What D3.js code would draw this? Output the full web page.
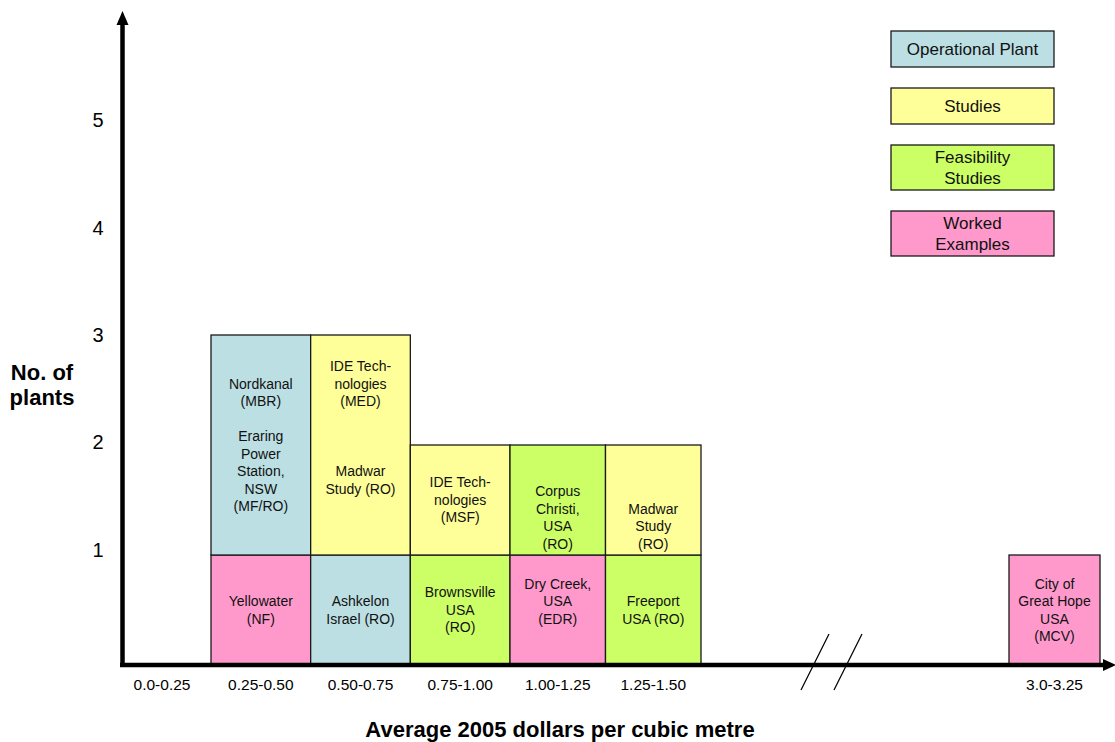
<!DOCTYPE html>
<html>
<head>
<meta charset="utf-8">
<script src="https://cdn.jsdelivr.net/npm/d3@7"></script>
<style>
  body { margin: 0; background: #fff; }
  svg { display: block; font-family: "Liberation Sans", Arial, sans-serif; }
</style>
</head>
<body>
<svg id="chart" width="1115" height="742"></svg>
<script>
// price bands (average 2005 $ per cubic metre)
var categories = ["0.0-0.25", "0.25-0.50", "0.50-0.75", "0.75-1.00", "1.00-1.25", "1.25-1.50", "3.0-3.25"];
var categoryLow = [0, 0.25, 0.5, 0.75, 1.0, 1.25, 3.0];

var types = ["Operational Plant", "Studies", "Feasibility Studies", "Worked Examples"];
var typeLines = [["Operational Plant"], ["Studies"], ["Feasibility", "Studies"], ["Worked", "Examples"]];
var typeColors = ["#bcdfe3", "#ffff99", "#ccff66", "#ff99cc"];

// one entry per box, stacked bottom-up inside each band
var boxCategory = ["0.25-0.50", "0.25-0.50", "0.50-0.75", "0.50-0.75", "0.75-1.00", "0.75-1.00",
                   "1.00-1.25", "1.00-1.25", "1.25-1.50", "1.25-1.50", "3.0-3.25"];
var boxType = ["Worked Examples", "Operational Plant", "Operational Plant", "Studies", "Feasibility Studies", "Studies",
               "Worked Examples", "Feasibility Studies", "Feasibility Studies", "Studies", "Worked Examples"];
var boxPlants = [1, 2, 1, 2, 1, 1, 1, 1, 1, 1, 1];
var boxLabel = [
  ["Yellowater", "(NF)"],
  ["Nordkanal", "(MBR)", "", "Eraring", "Power", "Station,", "NSW", "(MF/RO)"],
  ["Ashkelon", "Israel (RO)"],
  ["IDE Tech-", "nologies", "(MED)", "", "", "", "Madwar", "Study (RO)", "", ""],
  ["Brownsville", "USA", "(RO)"],
  ["IDE Tech-", "nologies", "(MSF)"],
  ["Dry Creek,", "USA", "(EDR)", ""],
  ["", "", "Corpus", "Christi,", "USA", "(RO)"],
  ["Freeport", "USA (RO)"],
  ["", "", "", "Madwar", "Study", "(RO)"],
  ["City of", "Great Hope", "USA", "(MCV)"]
];

var yTicks = [1, 2, 3, 4, 5];

var svg = d3.select("#chart");

// broken x axis: the gap between 1.50 and 3.0 is squeezed
var x = d3.scaleLinear()
  .domain([0, 0.25, 1.0, 1.5, 3.0, 3.25])
  .range([113, 211, 510, 701, 1009, 1100]);
var y = d3.scaleLinear().domain([0, 3]).range([665, 335]);
var bandWidth = 0.25;
var lineH = 17.5;

// stack boxes inside each category
var offsets = {};
var boxes = boxCategory.map(function(c, i) {
  var base = offsets[c] || 0;
  offsets[c] = base + boxPlants[i];
  var low = categoryLow[categories.indexOf(c)];
  return { cat: c, low: low, y0: base, y1: base + boxPlants[i], type: boxType[i], label: boxLabel[i] };
});

var g = svg.append("g").selectAll("g.box").data(boxes).enter()
  .append("g").attr("class", "box");

g.append("rect")
  .attr("x", function(d) { return x(d.low); })
  .attr("y", function(d) { return y(d.y1); })
  .attr("width", function(d) { return x(d.low + bandWidth) - x(d.low); })
  .attr("height", function(d) { return y(d.y0) - y(d.y1); })
  .attr("fill", function(d) { return typeColors[types.indexOf(d.type)]; })
  .attr("stroke", "#1a1a1a")
  .attr("stroke-width", 1.3);

g.append("text")
  .attr("text-anchor", "middle")
  .attr("font-size", 14)
  .attr("fill", "#111")
  .each(function(d) {
    var cx = (x(d.low) + x(d.low + bandWidth)) / 2;
    var cy = (y(d.y0) + y(d.y1)) / 2;
    var n = d.label.length;
    var t = d3.select(this);
    d.label.forEach(function(line, i) {
      t.append("tspan")
        .attr("x", cx)
        .attr("y", cy + (i - (n - 1) / 2) * lineH)
        .attr("dy", "0.35em")
        .text(line);
    });
  });

// axes with arrow heads
svg.append("line")
  .attr("x1", 122.5).attr("x2", 122.5)
  .attr("y1", y(0) + 2).attr("y2", 22)
  .attr("stroke", "#000").attr("stroke-width", 4.5);
svg.append("path")
  .attr("d", "M116.5,25 L122.5,11 L128.5,25 Z")
  .attr("fill", "#000");

svg.append("line")
  .attr("x1", 120).attr("x2", 1106)
  .attr("y1", y(0)).attr("y2", y(0))
  .attr("stroke", "#000").attr("stroke-width", 4.5);
svg.append("path")
  .attr("d", "M1103," + (y(0) - 6) + " L1116," + y(0) + " L1103," + (y(0) + 6) + " Z")
  .attr("fill", "#000");

// break marks
var breakX = x(1.5);
[114, 147].forEach(function(off) {
  svg.append("line")
    .attr("x1", breakX + off + 14).attr("y1", 634)
    .attr("x2", breakX + off - 14).attr("y2", 690)
    .attr("stroke", "#000").attr("stroke-width", 1.2);
});

// y tick labels (labels sit a little tighter than the grid)
svg.append("g").selectAll("text").data(yTicks).enter()
  .append("text")
  .attr("x", 98)
  .attr("y", function(d) { return y(d) + (d - 3) * 2.6; })
  .attr("dy", "0.35em")
  .attr("text-anchor", "middle")
  .attr("font-size", 20)
  .attr("fill", "#000")
  .text(function(d) { return d; });

// x category labels
svg.append("g").selectAll("text").data(categories).enter()
  .append("text")
  .attr("x", function(d, i) { return (x(categoryLow[i]) + x(categoryLow[i] + bandWidth)) / 2; })
  .attr("y", 685)
  .attr("dy", "0.35em")
  .attr("text-anchor", "middle")
  .attr("font-size", 15.5)
  .attr("fill", "#000")
  .text(function(d) { return d; });

// axis titles
svg.append("text")
  .attr("x", 560).attr("y", 729)
  .attr("dy", "0.35em")
  .attr("text-anchor", "middle")
  .attr("font-size", 22).attr("font-weight", "bold")
  .text("Average 2005 dollars per cubic metre");

var yTitle = svg.append("text")
  .attr("text-anchor", "middle")
  .attr("font-size", 22).attr("font-weight", "bold");
["No. of", "plants"].forEach(function(s, i) {
  yTitle.append("tspan").attr("x", 42).attr("y", 372 + i * 25).attr("dy", "0.35em").text(s);
});

// legend
var legendY = 31;
types.forEach(function(t, i) {
  var lines = typeLines[i];
  var h = lines.length == 1 ? 36 : 45;
  svg.append("rect")
    .attr("x", 891).attr("y", legendY)
    .attr("width", 163).attr("height", h)
    .attr("fill", typeColors[i])
    .attr("stroke", "#1a1a1a").attr("stroke-width", 1.3);
  var txt = svg.append("text").attr("text-anchor", "middle").attr("font-size", 17).attr("fill", "#111");
  lines.forEach(function(s, j) {
    txt.append("tspan")
      .attr("x", 972.5)
      .attr("y", legendY + h / 2 + (j - (lines.length - 1) / 2) * 21)
      .attr("dy", "0.35em")
      .text(s);
  });
  legendY += h + 21;
});
</script>
</body>
</html>
